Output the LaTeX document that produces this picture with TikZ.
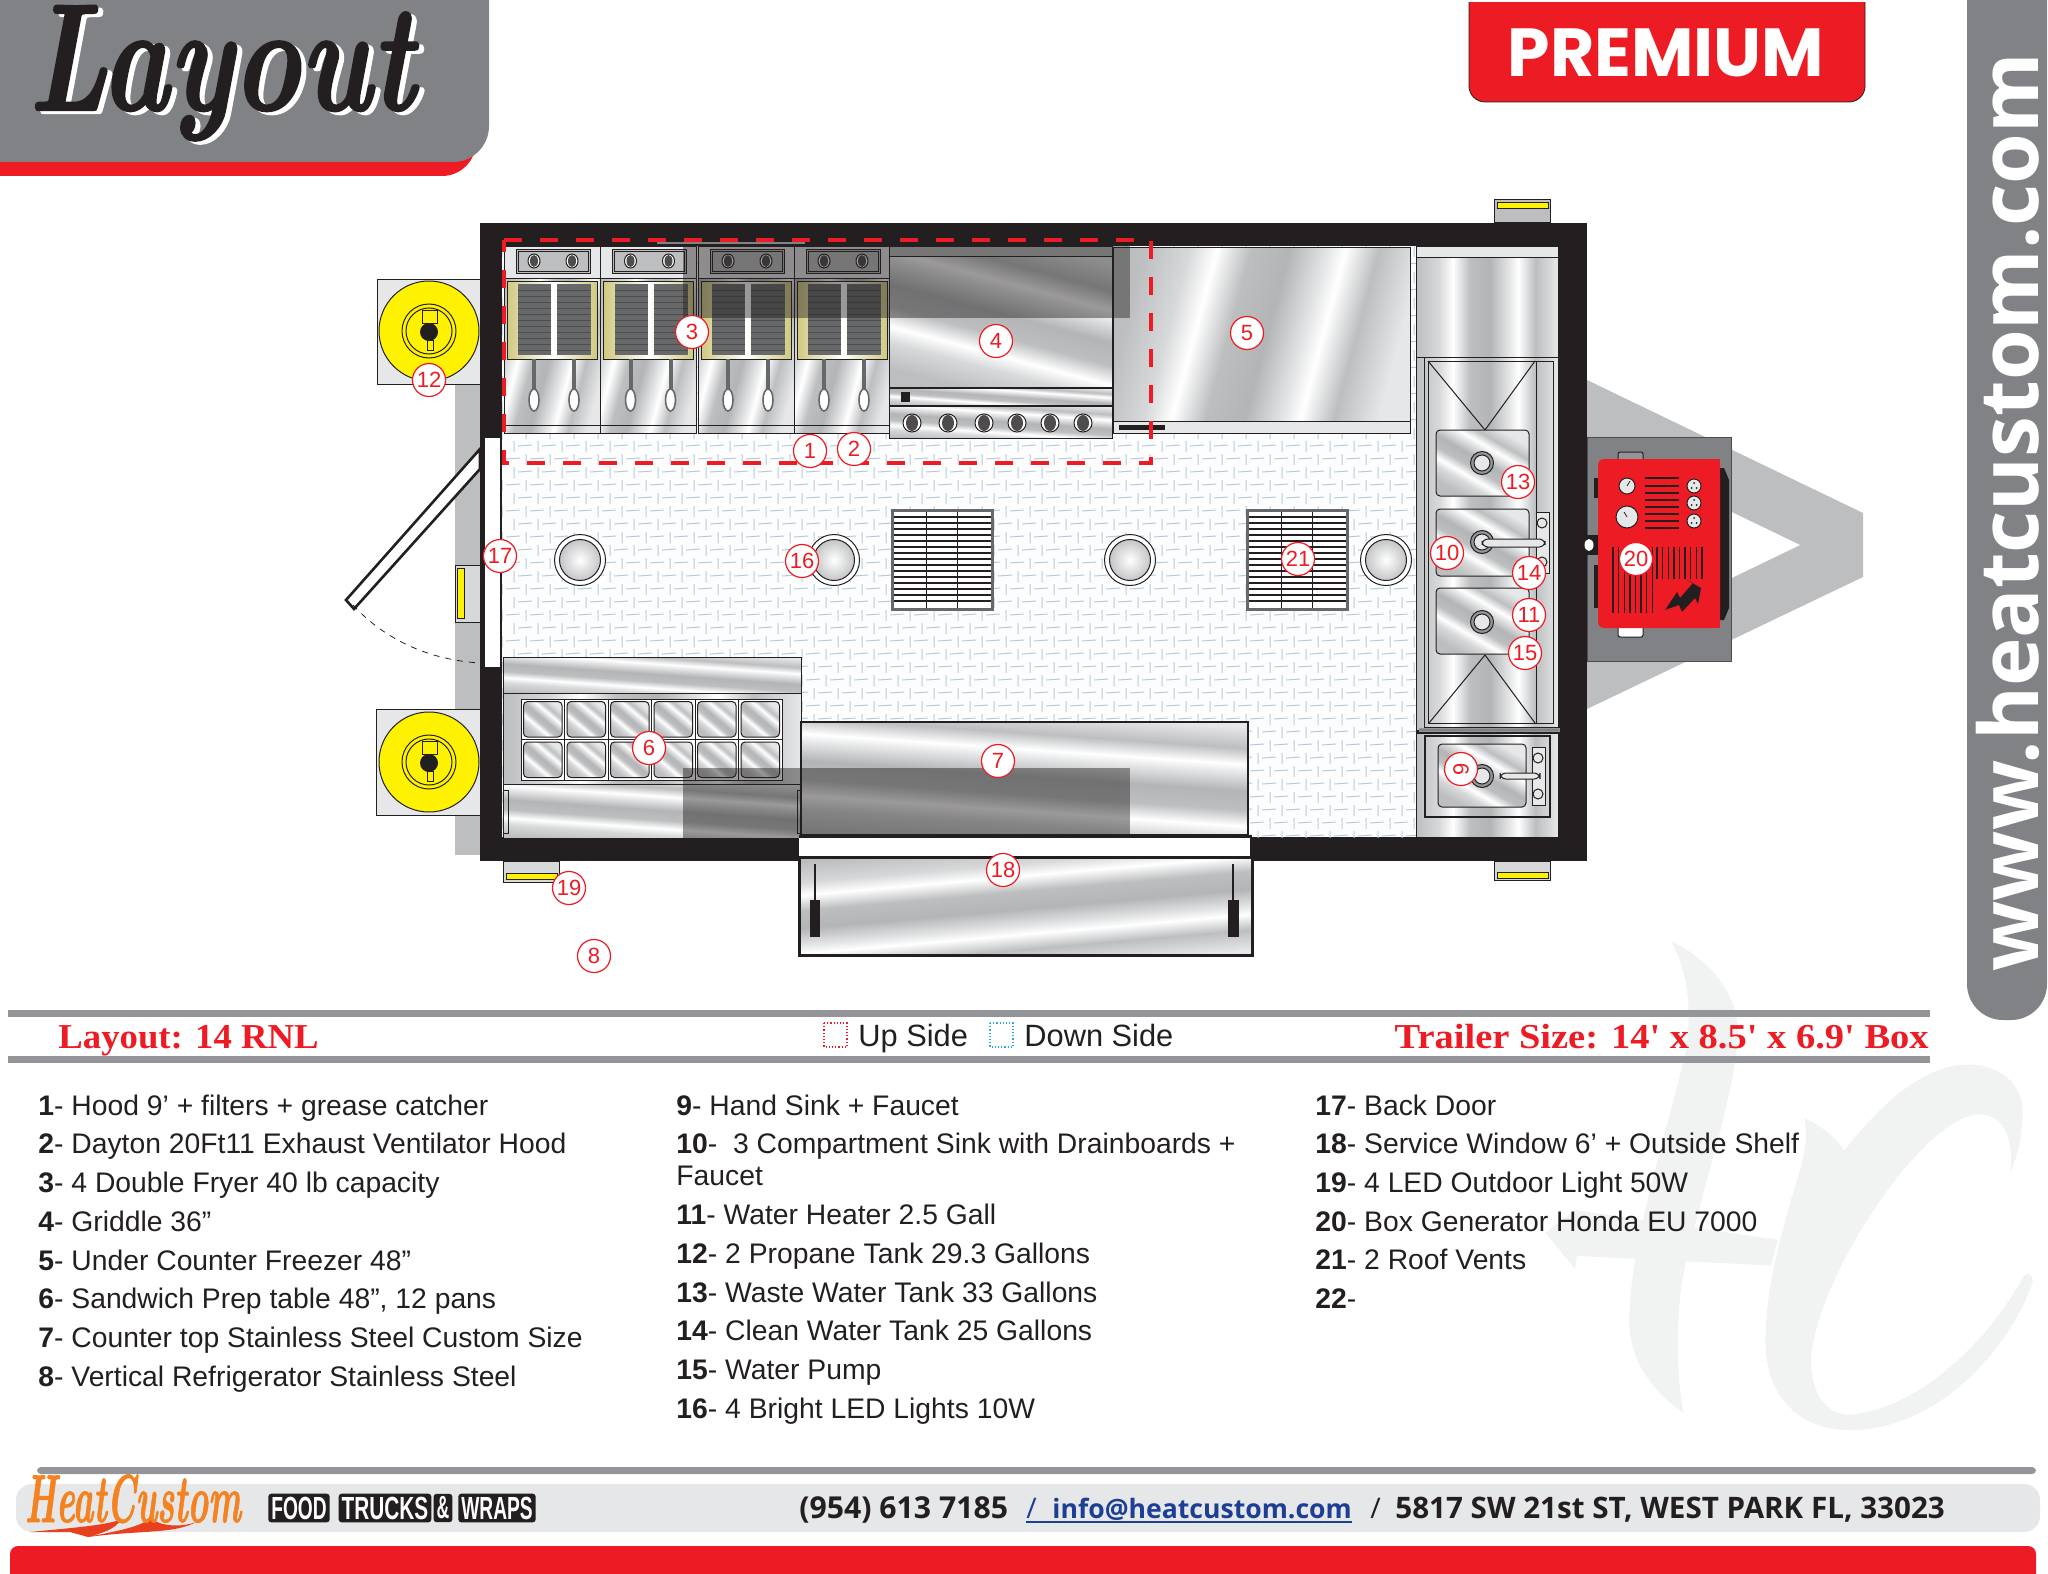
\documentclass[tikz,border=0pt]{standalone}
\usepackage{fontspec}
\newfontfamily\listface{Liberation Sans}
\newfontfamily\headface{Liberation Serif}
\newfontfamily\premiumface{Poppins}
\newfontfamily\footface{Open Sans}
\newfontfamily\logoface[FakeBold=1.5]{Latin Modern Roman}

\definecolor{brandred}{HTML}{ED1C24}
\definecolor{panelgrey}{HTML}{808285}
\definecolor{rulegrey}{HTML}{939598}
\definecolor{tonguegrey}{HTML}{BCBEC0}
\definecolor{palegrey}{HTML}{E6E7E8}
\definecolor{markgrey}{HTML}{F1F2F2}
\definecolor{lampyellow}{HTML}{FFF200}
\definecolor{wallblack}{HTML}{231F20}
\definecolor{treadblue}{HTML}{B5CBDC}
\definecolor{fryeryellow}{HTML}{CFC97F}
\definecolor{mailblue}{HTML}{1C3F94}
\definecolor{dashcyan}{HTML}{27AAE1}
\definecolor{logoorange}{HTML}{F58220}
\definecolor{logored}{HTML}{E8401F}

\pgfdeclarehorizontalshading{steelwave}{100bp}{
  color(0bp)=(tonguegrey); color(25bp)=(tonguegrey);
  color(33bp)=(tonguegrey!60); color(38bp)=(white); color(44bp)=(tonguegrey);
  color(51bp)=(tonguegrey!95!black); color(58bp)=(palegrey); color(61bp)=(white);
  color(67bp)=(tonguegrey); color(75bp)=(palegrey); color(100bp)=(palegrey)}

\tikzset{
  badge/.style={circle,draw=brandred,line width=0.6pt,fill=white,text=brandred,
    minimum size=16.5pt,inner sep=0pt,font=\listface\fontsize{11}{12}\selectfont},
  listitem/.style={anchor=base west,inner sep=0pt,text=wallblack,
    font=\listface\fontsize{14.15}{16}\selectfont},
  sidetext/.style={anchor=base west,inner sep=0pt,text=wallblack,
    font=\listface\fontsize{15.4}{17}\selectfont},
  headtext/.style={inner sep=0pt,text=brandred,
    font=\headface\bfseries\fontsize{17.5}{20}\selectfont},
  foottext/.style={anchor=base west,inner sep=0pt,text=wallblack,
    font=\footface\bfseries\fontsize{14.8}{16}\selectfont},
  foodword/.style={fill=wallblack,text=white,rounded corners=1.5pt,inner sep=1.5pt,
    font=\listface\bfseries\fontsize{16}{17}\selectfont},
  outline/.style={draw=wallblack,line width=0.5pt},
  steeldiag/.style={shading=steelwave,shading angle=-15,outline},
  steelflat/.style={shading=steelwave,shading angle=86,outline},
  steelup/.style={shading=steelwave,shading angle=0,outline},
  darkmark/.style={fill=wallblack,opacity=0.45},
  hoodline/.style={brandred,line width=2pt,dash pattern=on 9pt off 9pt},
}

\newcommand{\fryer}[1]{
  \begin{scope}[shift={(#1,0)}]
    \draw[steeldiag] (0,246) rectangle (96,433);
    \draw[outline] (0,425) -- (96,425);
    \draw[outline,fill=palegrey] (0,246) rectangle (96,278);
    \draw[outline,fill=tonguegrey] (12,249) rectangle (86,273);
    \draw[outline] (14,251) rectangle (84,271);
    \foreach \k in {30,68} {
      \draw[outline,fill=white] (\k,261) ellipse [x radius=6,y radius=7];
      \fill[wallblack!80] (\k,261) ellipse [x radius=4,y radius=6];
    }
    \draw[outline,left color=fryeryellow,right color=fryeryellow,middle color=white] (3,281) rectangle (93,359);
    \foreach \b/\c in {14/47,53/87} {
      \fill[rulegrey!70!black] (\b,284) rectangle (\c,355);
      \foreach \r in {290,296,...,350}
        \draw[wallblack!80,line width=0.3pt] (\b,\r) -- (\c,\r);
    }
    \foreach \k in {30,70} {
      \draw[rulegrey!70!black,line width=2pt] (\k,359) -- (\k,389);
      \draw[rulegrey!70!black,line width=0.8pt,fill=white] (\k,400) ellipse [x radius=5,y radius=11];
    }
  \end{scope}
}
\newcommand{\propane}[1]{
  \draw[outline,fill=lampyellow] (429,#1) circle [radius=50];
  \draw[outline] (429,#1) circle [radius=27];
  \draw[outline] (429,#1) circle [radius=23];
  \draw[outline,fill=lampyellow] (422,#1-21) rectangle (437,#1-8);
  \draw[outline,fill=lampyellow] (427,#1+9) rectangle (433,#1+19);
  \fill[wallblack] (429,#1+1) circle [radius=9];
}
\newcommand{\rooflight}[1]{
  \draw[outline,fill=white] (#1,560) circle [radius=25.5];
  \draw[outline,inner color=white,outer color=rulegrey!55] (#1,560) circle [radius=20.5];
}
\newcommand{\roofvent}[1]{
  \begin{scope}[shift={(#1,0)}]
    \fill[white] (0,510) rectangle (100,609);
    \foreach \r in {517,523,...,605}
      \draw[wallblack,line width=0.8pt] (0,\r) -- (100,\r);
    \draw[wallblack,line width=0.5pt] (34,510) -- (34,609) (65,510) -- (65,609);
    \draw[panelgrey!80!black,line width=1.5pt] (0,510) rectangle (100,609);
  \end{scope}
}
\newcommand{\drain}[2]{
  \draw[outline,fill=rulegrey] (#1,#2) circle [radius=11.5];
  \draw[outline,fill=palegrey] (#1,#2) circle [radius=8];
}
\newcommand{\bowl}[2]{
  \draw[steeldiag,shading angle=60,rounded corners=2pt] (1436,#1) rectangle (1529,#2);
}

\begin{document}
\begin{tikzpicture}[x=0.5pt,y=-0.5pt]
\useasboundingbox (0,0) rectangle (2048,1573);

\begin{scope}[shift={(1500,900)},xscale=0.3495,yscale=0.3827]
  \fill[markgrey] (490,108) .. controls (590,150) and (680,240) .. (680,340)
    .. controls (680,500) and (560,800) .. (520,1000)
    .. controls (505,1100) and (505,1250) .. (525,1340)
    .. controls (430,1280) and (370,1200) .. (370,1100)
    .. controls (370,900) and (480,600) .. (530,400)
    .. controls (550,300) and (540,190) .. (490,108) -- cycle;
  \fill[markgrey] (130,870) -- (215,810) -- (795,888) -- (775,955) -- (220,930) -- (215,965) -- cycle;
  \fill[markgrey] (870,570) .. controls (920,590) and (960,620) .. (985,655)
    .. controls (1100,520) and (1220,430) .. (1340,430)
    .. controls (1450,430) and (1500,500) .. (1495,560)
    .. controls (1495,620) and (1480,670) .. (1460,710)
    .. controls (1470,620) and (1440,560) .. (1370,560)
    .. controls (1200,570) and (900,1000) .. (890,1200)
    .. controls (890,1300) and (940,1345) .. (1000,1345)
    .. controls (1200,1330) and (1400,1150) .. (1500,980)
    .. controls (1520,970) and (1530,990) .. (1520,1010)
    .. controls (1450,1180) and (1250,1385) .. (1000,1385)
    .. controls (860,1385) and (750,1300) .. (760,1130)
    .. controls (765,1000) and (800,880) .. (860,700)
    .. controls (875,650) and (880,610) .. (870,570) -- cycle;
\end{scope}

\fill[panelgrey,rounded corners=18pt] (1967,-60) rectangle (2047,1020);
\node[anchor=base,rotate=90,inner sep=0pt,text=white,font=\footface\bfseries\fontsize{41}{41}\selectfont]
  (siteurl) at (2038,512) {www.heatcustom.com};

\fill[brandred,rounded corners=17pt] (-60,-60) rectangle (476,176);
\fill[panelgrey,rounded corners=18pt] (-60,-60) rectangle (489,162);
\node[anchor=base west,inner sep=0pt,text=white,font=\logoface\bfseries\itshape\fontsize{76}{76}\selectfont]
  (titleback) at (33,113) {\scalebox{0.75}[1]{Layout}};
\node[anchor=base west,inner sep=0pt,text=wallblack,font=\logoface\bfseries\itshape\fontsize{76}{76}\selectfont]
  (titlefront) at (28,110) {\scalebox{0.75}[1]{Layout}};

\draw[wallblack,line width=0.4pt,fill=brandred,rounded corners=8pt] (1469,-30) rectangle (1865,102);
\fill[white] (1440,-30) rectangle (1900,2);
\node[inner sep=0pt,text=white,font=\premiumface\bfseries\fontsize{34}{34}\selectfont]
  (premium) at (1666,53) {PREMIUM};

\fill[tonguegrey] (1587,380) -- (1863,513) -- (1863,577) -- (1587,709) -- cycle;
\fill[white] (1800,545) -- (1690,492) -- (1690,598) -- cycle;
\draw[wallblack!80,line width=0.5pt,fill=panelgrey] (1587,437) rectangle (1731,661);

\fill[tonguegrey] (455,385) rectangle (480,855);
\draw[outline,fill=palegrey] (377,279) rectangle (480,384);
\draw[outline,fill=palegrey] (376,709) rectangle (480,815);
\propane{331}
\propane{762}

\draw[outline,fill=tonguegrey] (1494,200) rectangle (1550,223);
\draw[outline,fill=lampyellow] (1497,203) rectangle (1548,209);
\draw[outline,fill=tonguegrey!60] (503,861) rectangle (559,882);
\draw[outline,fill=lampyellow] (506,873) rectangle (557,879);
\draw[outline,fill=tonguegrey!60] (1494,861) rectangle (1550,880);
\draw[outline,fill=lampyellow] (1497,872) rectangle (1548,878);
\draw[outline,fill=tonguegrey!60] (455,565) rectangle (480,622);
\draw[outline,fill=lampyellow] (457,568) rectangle (464,618);

\fill[wallblack] (480,223) rectangle (1587,861);
\fill[white!97!treadblue] (502,246) rectangle (1416,837);
\begin{scope}
  \clip (502,246) rectangle (1416,837);
  \draw[treadblue,line width=0.5pt]
    \foreach \r in {0,...,45} { \foreach \c in {0,...,38} {
      ({502+24*\c+12*mod(\r,2)},{246+13*\r}) -- ++(0,11)
      ({506+24*\c+12*mod(\r,2)},{251+13*\r}) -- ++(14,-1)
    } };
\end{scope}

\fill[white] (485,438) rectangle (500,667);
\draw[wallblack,line width=1.3pt,fill=white] (480,449) -- (480,469) -- (354,609) -- (346,600) -- cycle;
\draw[wallblack,line width=0.4pt,dashed] (353,605) .. controls (385,640) and (430,660) .. (480,663);

\rooflight{580}
\rooflight{834}
\rooflight{1130}
\rooflight{1386}
\roofvent{892}
\roofvent{1247}

\fryer{504}
\fryer{600.5}
\fryer{698}
\fryer{794}

\draw[steeldiag,shading angle=75] (889,246) rectangle (1112,387);
\draw[outline,fill=tonguegrey] (889,246) rectangle (1112,256);
\draw[steelflat] (889,388) rectangle (1112,405);
\fill[wallblack] (901,392) rectangle (910,402);
\draw[steelflat] (889,406) rectangle (1112,438);
\foreach \k in {912,948,984,1017,1050,1083} {
  \draw[outline,fill=white] (\k,423) circle [radius=9];
  \fill[wallblack!80] (\k,423) ellipse [x radius=6,y radius=8];
}

\draw[steeldiag] (1113,247) rectangle (1410,421);
\draw[outline,fill=palegrey] (1113,421) rectangle (1410,433);
\fill[wallblack] (1119,425) rectangle (1165,430);

\fill[darkmark] (683,246) rectangle (1130,318);
\draw[panelgrey,line width=1pt] (657,243) -- (805,243);

\draw[steelup] (1416,246) rectangle (1558,357);
\draw[outline,fill=palegrey] (1416,246) rectangle (1558,257);
\draw[steelup] (1416,357) rectangle (1558,730);
\draw[outline] (1424,357) -- (1424,727) -- (1558,727);
\draw[outline] (1424,357) -- (1558,357);
\draw[outline] (1428,361) rectangle (1553,723);
\draw[outline] (1536,361) -- (1536,723);
\draw[outline] (1428,361) -- (1485,430) -- (1535,361);
\draw[outline] (1429,723) -- (1485,655) -- (1535,723);
\bowl{430}{496}
\bowl{509}{576}
\bowl{588}{654}
\drain{1482}{463}
\drain{1482}{542}
\drain{1482}{622}
\draw[outline,fill=palegrey] (1536,512) rectangle (1549,573);
\draw[outline] (1542,523) circle [radius=5];
\draw[outline] (1542,562) circle [radius=5];
\draw[outline,fill=palegrey,rounded corners=3pt] (1482,539) rectangle (1545,547);
\draw[rulegrey,fill=panelgrey,line width=0.5pt] (1419,728) rectangle (1559,731);

\draw[steelup] (1416,733) rectangle (1558,837);
\draw[outline,line width=0.8pt] (1425,736) rectangle (1550,817);
\draw[steeldiag,shading angle=60,rounded corners=2pt] (1438,744) rectangle (1526,807);
\drain{1482}{776}
\draw[outline,fill=palegrey] (1532,747) rectangle (1545,805);
\draw[outline] (1538,758) circle [radius=5];
\draw[outline] (1538,794) circle [radius=5];
\draw[outline,fill=palegrey,rounded corners=3pt] (1500,773) rectangle (1540,779);

\draw[steelflat] (503,657) rectangle (801,693);
\draw[steelup] (503,693) rectangle (801,784);
\draw[outline,fill=rulegrey] (521,699) rectangle (782,780);
\foreach \c in {0,...,5} {
  \foreach \r in {0,1} {
    \draw[outline,fill=white] ({521+43.5*\c},{699+40.5*\r}) rectangle ++(43.5,40.5);
    \draw[steeldiag,shading angle=50,rounded corners=2pt]
      ({523.5+43.5*\c},{701.5+40.5*\r}) rectangle ++(38.5,35.5);
  }
}
\draw[steelflat] (503,784) rectangle (801,838);
\draw[outline] (503,790) rectangle (508,833);
\draw[outline] (797,790) rectangle (801,833);
\draw[wallblack,line width=1.2pt,shading=steelwave,shading angle=86] (801,722) rectangle (1248,835);
\fill[darkmark] (683,768) rectangle (801,838);
\fill[darkmark] (801,768) rectangle (1130,834);

\fill[white] (799,838) rectangle (1250,856);
\draw[wallblack,line width=1.5pt] (799,836) -- (1252,836);
\draw[wallblack,line width=1.5pt,shading=steelwave,shading angle=-85] (799,857) rectangle (1252,955);
\fill[wallblack] (814,864) rectangle (816,900);
\fill[wallblack] (810,900) rectangle (820,937);
\fill[wallblack] (1232,864) rectangle (1234,900);
\fill[wallblack] (1228,900) rectangle (1239,937);

\fill[wallblack] (1594,478) rectangle (1598,498);
\fill[wallblack] (1594,565) rectangle (1598,608);
\fill[wallblack] (1718,468) -- (1724,468) -- (1729,480) -- (1729,608) -- (1724,620) -- (1718,620) -- cycle;
\draw[outline,fill=rulegrey,rounded corners=1pt] (1618,452) rectangle (1643,462);
\draw[outline,fill=white,rounded corners=1pt] (1618,625) rectangle (1643,637);
\fill[wallblack] (1583,535) rectangle (1598,555);
\fill[white] (1589,545) ellipse [x radius=4.5,y radius=6];
\fill[brandred,rounded corners=3pt] (1598,459) -- (1598,628) -- (1720,628) -- (1720,459) -- cycle;
\fill[brandred] (1700,459) rectangle (1720,628);
\draw[outline,fill=palegrey] (1627,486) circle [radius=8];
\draw[wallblack,line width=0.4pt] (1627,486) -- (1630,481);
\draw[outline,fill=palegrey] (1627,517) circle [radius=11];
\draw[wallblack,line width=0.4pt] (1627,517) -- (1624,512);
\foreach \r in {486,503,521} {
  \draw[outline,fill=palegrey] (1694,\r) circle [radius=7];
  \fill[wallblack] (1694,\r-3) circle [radius=1] (1691.5,\r+2) circle [radius=1] (1696.5,\r+2) circle [radius=1];
}
\foreach \r in {478,486,493,500,507,514,521,528}
  \draw[wallblack,line width=0.6pt] (1645,\r) -- (1679,\r);
\foreach \k in {1613,1618.6,...,1657}
  \draw[wallblack,line width=0.7pt] (\k,547) -- (\k,613);
\foreach \k in {1657,1662.6,...,1707}
  \draw[wallblack,line width=0.7pt] (\k,547) -- (\k,579);
\fill[wallblack] (1665,610) -- (1677,592) -- (1680,598) -- (1693,583) -- (1687,580)
  -- (1701,588) -- (1698,604) -- (1695,598) -- (1682,612) -- (1679,605) -- cycle;

\draw[hoodline] (504,240) -- (1151,240) -- (1151,463) -- (504,463) -- cycle;

\node[badge] (n1) at (810,451) {1};
\node[badge] (n2) at (854,449) {2};
\node[badge] (n3) at (692,332) {3};
\node[badge] (n4) at (996,341) {4};
\node[badge] (n5) at (1247,333) {5};
\node[badge] (n6) at (649,748) {6};
\node[badge] (n7) at (998,761) {7};
\node[badge] (n8) at (594,956) {8};
\node[badge,rotate=90] (n9) at (1461,769) {9};
\node[badge] (n10) at (1447,553) {10};
\node[badge] (n11) at (1529,615) {11};
\node[badge] (n12) at (429,380) {12};
\node[badge] (n13) at (1518,482) {13};
\node[badge] (n14) at (1529,573) {14};
\node[badge] (n15) at (1525,653) {15};
\node[badge] (n16) at (802,561) {16};
\node[badge] (n17) at (500,556) {17};
\node[badge] (n18) at (1003,870) {18};
\node[badge] (n19) at (569,888) {19};
\node[badge] (n20) at (1636,559) {20};
\node[badge] (n21) at (1298,559) {21};

\fill[rulegrey] (8,1010) rectangle (1930,1017);
\fill[rulegrey] (8,1056) rectangle (1930,1063);
\node[headtext,anchor=base west] (layoutname) at (58,1048) {\scalebox{1.05}[1]{Layout: 14 RNL}};
\node[headtext,anchor=base east] (trailersize) at (1929,1048) {\scalebox{1.1}[1]{Trailer Size: 14' x 8.5' x 6.9' Box}};
\draw[brandred,line width=0.6pt,densely dotted] (824,1023) rectangle (847,1047);
\node[sidetext] (upside) at (858,1046) {Up Side};
\draw[dashcyan,line width=0.6pt,densely dotted] (990,1023) rectangle (1013,1047);
\node[sidetext] (downside) at (1024,1046) {Down Side};

\node[listitem] (i1) at (38,1115) {\textbf{1}- Hood 9’ + filters + grease catcher};
\node[listitem] (i2) at (38,1153.7) {\textbf{2}- Dayton 20Ft11 Exhaust Ventilator Hood};
\node[listitem] (i3) at (38,1192.4) {\textbf{3}- 4 Double Fryer 40 lb capacity};
\node[listitem] (i4) at (38,1231) {\textbf{4}- Griddle 36”};
\node[listitem] (i5) at (38,1270) {\textbf{5}- Under Counter Freezer 48”};
\node[listitem] (i6) at (38,1308.5) {\textbf{6}- Sandwich Prep table 48”, 12 pans};
\node[listitem] (i7) at (38,1347) {\textbf{7}- Counter top Stainless Steel Custom Size};
\node[listitem] (i8) at (38,1386) {\textbf{8}- Vertical Refrigerator Stainless Steel};
\node[listitem] (i9) at (676,1115) {\textbf{9}- Hand Sink + Faucet};
\node[listitem] (i10) at (676,1153.7) {\textbf{10}-~ 3 Compartment Sink with Drainboards +};
\node[listitem] (i10b) at (676,1185) {Faucet};
\node[listitem] (i11) at (676,1224.5) {\textbf{11}- Water Heater 2.5 Gall};
\node[listitem] (i12) at (676,1263) {\textbf{12}- 2 Propane Tank 29.3 Gallons};
\node[listitem] (i13) at (676,1302) {\textbf{13}- Waste Water Tank 33 Gallons};
\node[listitem] (i14) at (676,1340.5) {\textbf{14}- Clean Water Tank 25 Gallons};
\node[listitem] (i15) at (676,1379.5) {\textbf{15}- Water Pump};
\node[listitem] (i16) at (676,1418) {\textbf{16}- 4 Bright LED Lights 10W};
\node[listitem] (i17) at (1315,1115) {\textbf{17}- Back Door};
\node[listitem] (i18) at (1315,1153.7) {\textbf{18}- Service Window 6’ + Outside Shelf};
\node[listitem] (i19) at (1315,1192.4) {\textbf{19}- 4 LED Outdoor Light 50W};
\node[listitem] (i20) at (1315,1231) {\textbf{20}- Box Generator Honda EU 7000};
\node[listitem] (i21) at (1315,1269.5) {\textbf{21}- 2 Roof Vents};
\node[listitem] (i22) at (1315,1308.5) {\textbf{22}-};

\fill[rulegrey,rounded corners=2pt] (37,1467) rectangle (2036,1474);
\fill[palegrey,rounded corners=8pt] (16,1484) rectangle (2040,1532);
\fill[brandred,rounded corners=4pt] (10,1546) rectangle (2036,1590);

\fill[logored] (30,1532) .. controls (70,1528) and (100,1526) .. (120,1520)
  .. controls (118,1528) and (100,1534) .. (88,1537)
  .. controls (110,1532) and (140,1528) .. (150,1518)
  .. controls (160,1526) and (180,1528) .. (196,1522)
  .. controls (175,1534) and (140,1530) .. (88,1537) -- (70,1532) -- cycle;
\node[anchor=base,inner sep=0pt,text=logoorange,font=\logoface\bfseries\itshape\fontsize{26}{26}\selectfont]
  (heatlogo) at (133,1522) {\scalebox{0.67}[1.3]{HeatCustom}};
\node[foodword] (foodA) at (299,1508) {\scalebox{0.6}[1]{FOOD}};
\node[foodword] (foodB) at (385,1508) {\scalebox{0.65}[1]{TRUCKS}};
\node[foodword] (foodC) at (443,1508) {\scalebox{0.55}[1]{\&}};
\node[foodword] (foodD) at (497,1508) {\scalebox{0.6}[1]{WRAPS}};

\node[foottext,font=\footface\bfseries\fontsize{15.1}{16}\selectfont] (phone) at (799,1518) {(954) 613 7185};
\node[foottext,text=mailblue,font=\footface\fontsize{14.2}{16}\selectfont] (slashA) at (1026,1518) {/};
\node[foottext,text=mailblue,font=\footface\bfseries\fontsize{13.3}{16}\selectfont] (mail) at (1052,1518) {info@heatcustom.com};
\draw[mailblue,line width=0.7pt] ([yshift=-2pt]slashA.base west) -- ([yshift=-2pt]mail.base east);
\node[foottext,font=\footface\fontsize{14.2}{16}\selectfont] (slashB) at (1370,1518) {/};
\node[foottext] (address) at (1395,1518) {5817 SW 21st ST, WEST PARK FL, 33023};
\end{tikzpicture}
\end{document}
